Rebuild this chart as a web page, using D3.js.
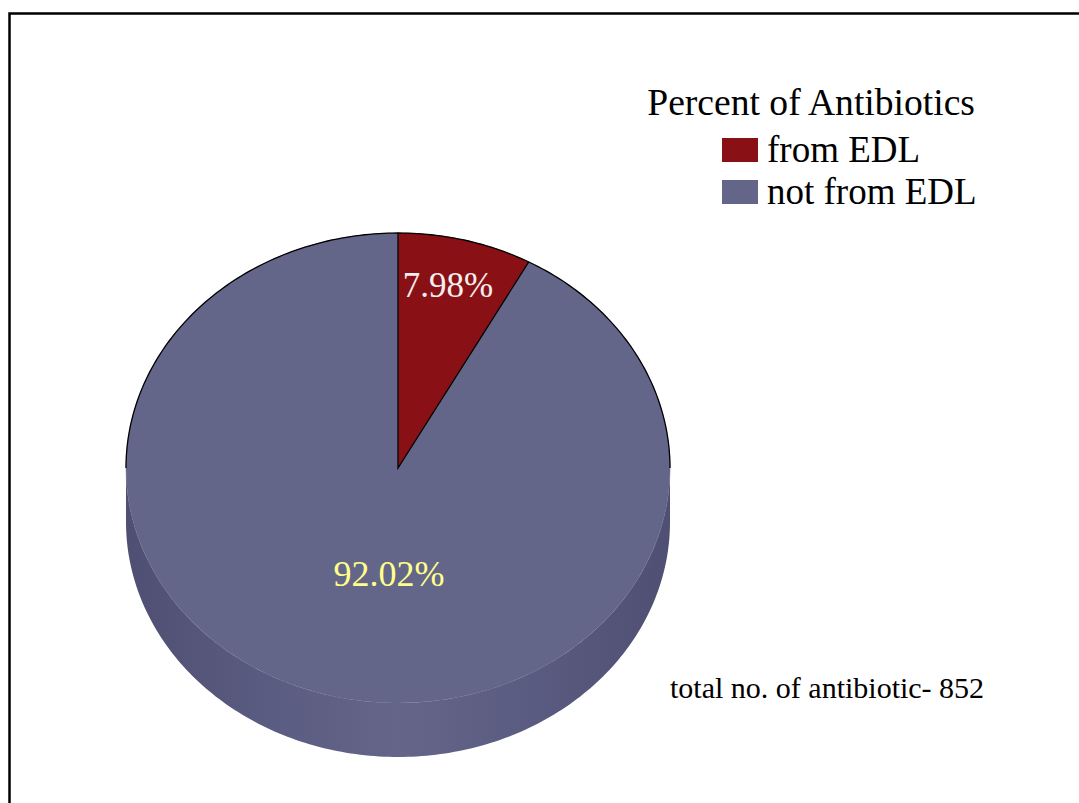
<!DOCTYPE html>
<html>
<head>
<meta charset="utf-8">
<script src="https://cdn.jsdelivr.net/npm/d3@7"></script>
<style>
  html, body { margin: 0; padding: 0; background: #fff; }
  svg { display: block; }
  svg text { font-family: 'Liberation Serif', 'DejaVu Serif', 'Tinos', serif; }
</style>
</head>
<body>
<svg id="chart" width="1079" height="803"></svg>
<script>
// ---- data ----
const categories = ["from EDL", "not from EDL"];
const values = [7.98, 92.02];
const labels = ["7.98%", "92.02%"];
const colors = ["#891116", "#636589"];
const labelColors = ["#f4eeee", "#ffff8a"];
const legendTitle = "Percent of Antibiotics";
const note = "total no. of antibiotic- 852";

(function () {
const W = 1079, H = 803;
const cx = 398, cy = 468, rx = 272, ry = 235, depth = 54;
const FONT = "Liberation Serif";

const svg = d3.select("#chart");

svg.append("rect")
  .attr("x", 9.5).attr("y", 13.5)
  .attr("width", W + 20).attr("height", H + 20)
  .attr("fill", "none").attr("stroke", "#000").attr("stroke-width", 2.5);

const pie = d3.pie().sort(null).value(d => d)(values);

const px = a => cx + rx * Math.sin(a);
const py = a => cy - ry * Math.cos(a);

const defs = svg.append("defs");
const grad = defs.append("linearGradient").attr("id", "side")
  .attr("x1", "0%").attr("x2", "100%").attr("y1", "0%").attr("y2", "0%");
[[0, "#4e4f72"], [0.25, "#5a5b80"], [0.5, "#646589"], [0.75, "#5a5b80"], [1, "#4e4f72"]]
  .forEach(([o, c]) => grad.append("stop").attr("offset", o).attr("stop-color", c));

const sideAngles = d3.range(Math.PI / 2, 3 * Math.PI / 2 + 1e-9, Math.PI / 180);
const topPts = sideAngles.map(a => [px(a), py(a)]);
const botPts = sideAngles.slice().reverse().map(a => [px(a), py(a) + depth]);
const line = d3.line().curve(d3.curveLinear);
svg.append("path")
  .attr("d", line(topPts.concat(botPts)) + "Z")
  .attr("fill", "url(#side)");

const arc = d3.arc().innerRadius(0).outerRadius(rx);
const topFace = svg.append("g")
  .attr("transform", `translate(${cx},${cy}) scale(1,${ry / rx})`);
topFace.selectAll("path.slice")
  .data(pie)
  .join("path")
  .attr("class", "slice")
  .attr("d", arc)
  .attr("fill", (d, i) => colors[i])
  .attr("stroke", (d, i) => colors[i])
  .attr("stroke-width", 0.5)
  .attr("vector-effect", "non-scaling-stroke");

const backAngles = d3.range(-Math.PI / 2, Math.PI / 2 + 1e-9, Math.PI / 180);
svg.append("path")
  .attr("d", line(backAngles.map(a => [px(a), py(a)])))
  .attr("fill", "none").attr("stroke", "#000").attr("stroke-width", 1.3);
pie.slice(0, 1).forEach(d => {
  svg.append("path")
    .attr("d", line([[px(d.startAngle), py(d.startAngle)], [cx, cy], [px(d.endAngle), py(d.endAngle)]]))
    .attr("fill", "none").attr("stroke", "#000").attr("stroke-width", 1.3);
});

const labelPos = [[448, 297], [389, 586]];
const labelSize = [35, 36];
svg.selectAll("text.lbl")
  .data(pie)
  .join("text")
  .attr("class", "lbl")
  .attr("x", (d, i) => labelPos[i][0])
  .attr("y", (d, i) => labelPos[i][1])
  .attr("text-anchor", "middle")
  .attr("font-family", FONT)
  .attr("font-size", (d, i) => labelSize[i])
  .attr("fill", (d, i) => labelColors[i])
  .text((d, i) => labels[i]);

svg.append("text")
  .attr("x", 975).attr("y", 115)
  .attr("text-anchor", "end")
  .attr("font-family", FONT)
  .attr("font-size", 37.6)
  .attr("fill", "#000")
  .text(legendTitle);

const legend = svg.selectAll("g.leg")
  .data(categories)
  .join("g")
  .attr("class", "leg")
  .attr("transform", (d, i) => `translate(722,${138 + i * 42})`);
legend.append("rect")
  .attr("width", 36).attr("height", 24)
  .attr("fill", (d, i) => colors[i]);
legend.append("text")
  .attr("x", 45).attr("y", 24)
  .attr("font-family", FONT)
  .attr("font-size", 37)
  .attr("fill", "#000")
  .text(d => d);

svg.append("text")
  .attr("x", 670).attr("y", 698)
  .attr("font-family", FONT)
  .attr("font-size", 30)
  .attr("fill", "#000")
  .text(note);
})();
</script>
</body>
</html>
